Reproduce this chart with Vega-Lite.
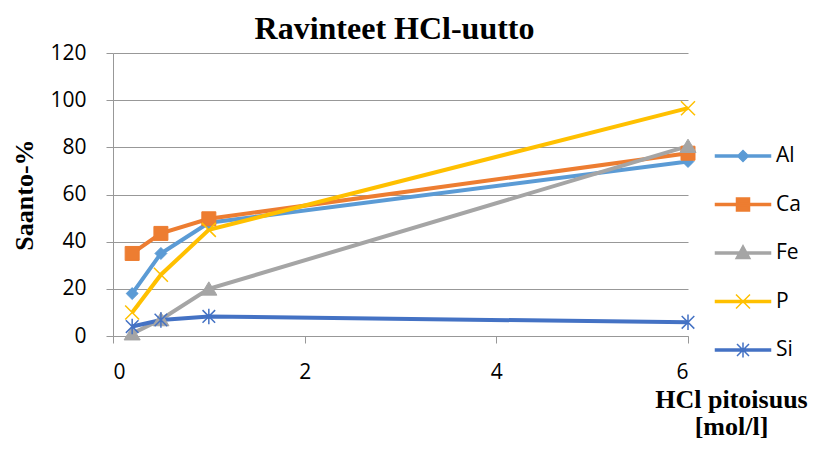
{
  "$schema": "https://vega.github.io/schema/vega-lite/v6.json",
  "width": 575,
  "height": 283,
  "autosize": "none",
  "padding": {"left": 113, "top": 53, "right": 126, "bottom": 114},
  "background": "white",
  "view": {"stroke": "transparent", "strokeWidth": 0},
  "title": {
    "text": "Ravinteet HCl-uutto",
    "font": "Liberation Serif",
    "fontSize": 32,
    "fontWeight": "bold",
    "color": "#000000",
    "anchor": "middle",
    "frame": "group",
    "baseline": "alphabetic",
    "offset": -29,
    "dx": -6
  },
  "config": {
    "view": {"stroke": "transparent", "strokeWidth": 0},
    "style": {"cell": {"stroke": "transparent", "strokeWidth": 0}},
    "legend": {"strokeColor": "transparent"},
    "axis": {
      "labelFont": "Open Sans",
      "labelFontSize": 21,
      "labelColor": "#000000",
      "domainColor": "transparent",
      "tickColor": "transparent",
      "gridColor": "transparent",
      "titleFont": "Liberation Serif",
      "titleFontSize": 26,
      "titleFontWeight": "bold",
      "titleColor": "#000000"
    }
  },
  "data": {
    "values": [
      {"HCl": 0.2, "saanto": 18, "aine": "Al"},
      {"HCl": 0.5, "saanto": 35, "aine": "Al"},
      {"HCl": 1, "saanto": 48, "aine": "Al"},
      {"HCl": 6, "saanto": 74, "aine": "Al"},
      {"HCl": 0.2, "saanto": 35, "aine": "Ca"},
      {"HCl": 0.5, "saanto": 43.5, "aine": "Ca"},
      {"HCl": 1, "saanto": 49.7, "aine": "Ca"},
      {"HCl": 6, "saanto": 77.5, "aine": "Ca"},
      {"HCl": 0.2, "saanto": 1, "aine": "Fe"},
      {"HCl": 0.5, "saanto": 7, "aine": "Fe"},
      {"HCl": 1, "saanto": 20, "aine": "Fe"},
      {"HCl": 6, "saanto": 80.5, "aine": "Fe"},
      {"HCl": 0.2, "saanto": 10, "aine": "P"},
      {"HCl": 0.5, "saanto": 26, "aine": "P"},
      {"HCl": 1, "saanto": 45, "aine": "P"},
      {"HCl": 6, "saanto": 96.6, "aine": "P"},
      {"HCl": 0.2, "saanto": 4, "aine": "Si"},
      {"HCl": 0.5, "saanto": 6.8, "aine": "Si"},
      {"HCl": 1, "saanto": 8.3, "aine": "Si"},
      {"HCl": 6, "saanto": 5.8, "aine": "Si"}
    ]
  },
  "encoding": {
    "x": {
      "field": "HCl",
      "type": "quantitative",
      "scale": {"domain": [0, 6], "nice": false, "zero": false},
      "axis": {
        "values": [0, 2, 4, 6],
        "grid": false,
        "tickSize": 7,
        "tickColor": "#989898",
        "domainColor": "#989898",
        "labelPadding": 18,
        "title": ["HCl pitoisuus", "[mol/l]"],
        "titleX": 618,
        "titleY": 71,
        "titleAlign": "center",
        "titleBaseline": "alphabetic",
        "titleLineHeight": 27
      }
    },
    "y": {
      "field": "saanto",
      "type": "quantitative",
      "scale": {"domain": [0, 120], "nice": false},
      "axis": {
        "values": [0, 20, 40, 60, 80, 100, 120],
        "grid": true,
        "gridColor": "#989898",
        "domainColor": "#989898",
        "tickColor": "#989898",
        "tickSize": 7,
        "labelPadding": 20,
        "title": "Saanto-%",
        "titleAngle": 270,
        "titleX": -89,
        "titleY": 141.5,
        "titleAlign": "center",
        "titleBaseline": "middle"
      }
    },
    "color": {
      "field": "aine",
      "type": "nominal",
      "scale": {"domain": ["Al", "Ca", "Fe", "P", "Si"], "range": ["#5B9BD5", "#ED7D31", "#A5A5A5", "#FFC000", "#4472C4"]},
      "legend": {
        "title": null,
        "orient": "none",
        "legendX": 619,
        "legendY": 92,
        "padding": 0,
        "labelFont": "Open Sans",
        "labelFontSize": 21,
        "labelColor": "#000000",
        "labelOffset": 22,
        "rowPadding": 27.5,
        "symbolSize": 400,
        "encode": {
          "symbols": {
            "update": {
              "shape": {"signal": "datum.value === 'Al' ? 'M-2.75,-0.1L2.75,-0.1L2.75,0.1L-2.75,0.1ZM0,-0.55L0.55,0L0,0.55L-0.55,0Z' : datum.value === 'Ca' ? 'M-2.75,-0.1L2.75,-0.1L2.75,0.1L-2.75,0.1ZM-0.65,-0.65L0.65,-0.65L0.65,0.65L-0.65,0.65Z' : datum.value === 'Fe' ? 'M-2.75,-0.1L2.75,-0.1L2.75,0.1L-2.75,0.1ZM0,-0.75L0.7,0.55L-0.7,0.55Z' : datum.value === 'P' ? 'M-2.75,-0.1L2.75,-0.1L2.75,0.1L-2.75,0.1ZM-0.7,-0.7L0.7,0.7M-0.7,0.7L0.7,-0.7' : 'M-2.75,-0.1L2.75,-0.1L2.75,0.1L-2.75,0.1ZM-0.6,-0.6L0.6,0.6M-0.6,0.6L0.6,-0.6M0,-0.75L0,0.75'"},
              "fill": {"signal": "scale('color', datum.value)"},
              "stroke": {"signal": "scale('color', datum.value)"},
              "strokeWidth": {"value": 1.5},
              "size": {"value": 400},
              "opacity": {"value": 1},
              "fillOpacity": {"value": 1}
            }
          }
        }
      }
    }
  },
  "layer": [
    {
      "mark": {"type": "line", "strokeWidth": 4},
      "encoding": {}
    },
    {
      "transform": [{"filter": "datum.aine === 'Al'"}],
      "mark": {"type": "point", "filled": true, "opacity": 1, "size": 196, "shape": "M0,-0.85L0.85,0L0,0.85L-0.85,0Z", "stroke": "#5B9BD5", "strokeWidth": 1}
    },
    {
      "transform": [{"filter": "datum.aine === 'Ca'"}],
      "mark": {"type": "point", "filled": true, "opacity": 1, "size": 196, "shape": "M-1,-1L1,-1L1,1L-1,1Z", "stroke": "#ED7D31", "strokeWidth": 1}
    },
    {
      "transform": [{"filter": "datum.aine === 'Fe'"}],
      "mark": {"type": "point", "filled": true, "opacity": 1, "size": 196, "shape": "M0,-1L1.15,0.9L-1.15,0.9Z", "stroke": "#A5A5A5", "strokeWidth": 1}
    },
    {
      "transform": [{"filter": "datum.aine === 'P'"}],
      "mark": {"type": "point", "filled": true, "opacity": 1, "size": 196, "shape": "M-1,-1L1,1M-1,1L1,-1", "stroke": "#FFC000", "strokeWidth": 1.5}
    },
    {
      "transform": [{"filter": "datum.aine === 'Si'"}],
      "mark": {"type": "point", "filled": true, "opacity": 1, "size": 196, "shape": "M-0.9,-0.9L0.9,0.9M-0.9,0.9L0.9,-0.9M0,-1.1L0,1.1", "stroke": "#4472C4", "strokeWidth": 1.5}
    }
  ]
}
